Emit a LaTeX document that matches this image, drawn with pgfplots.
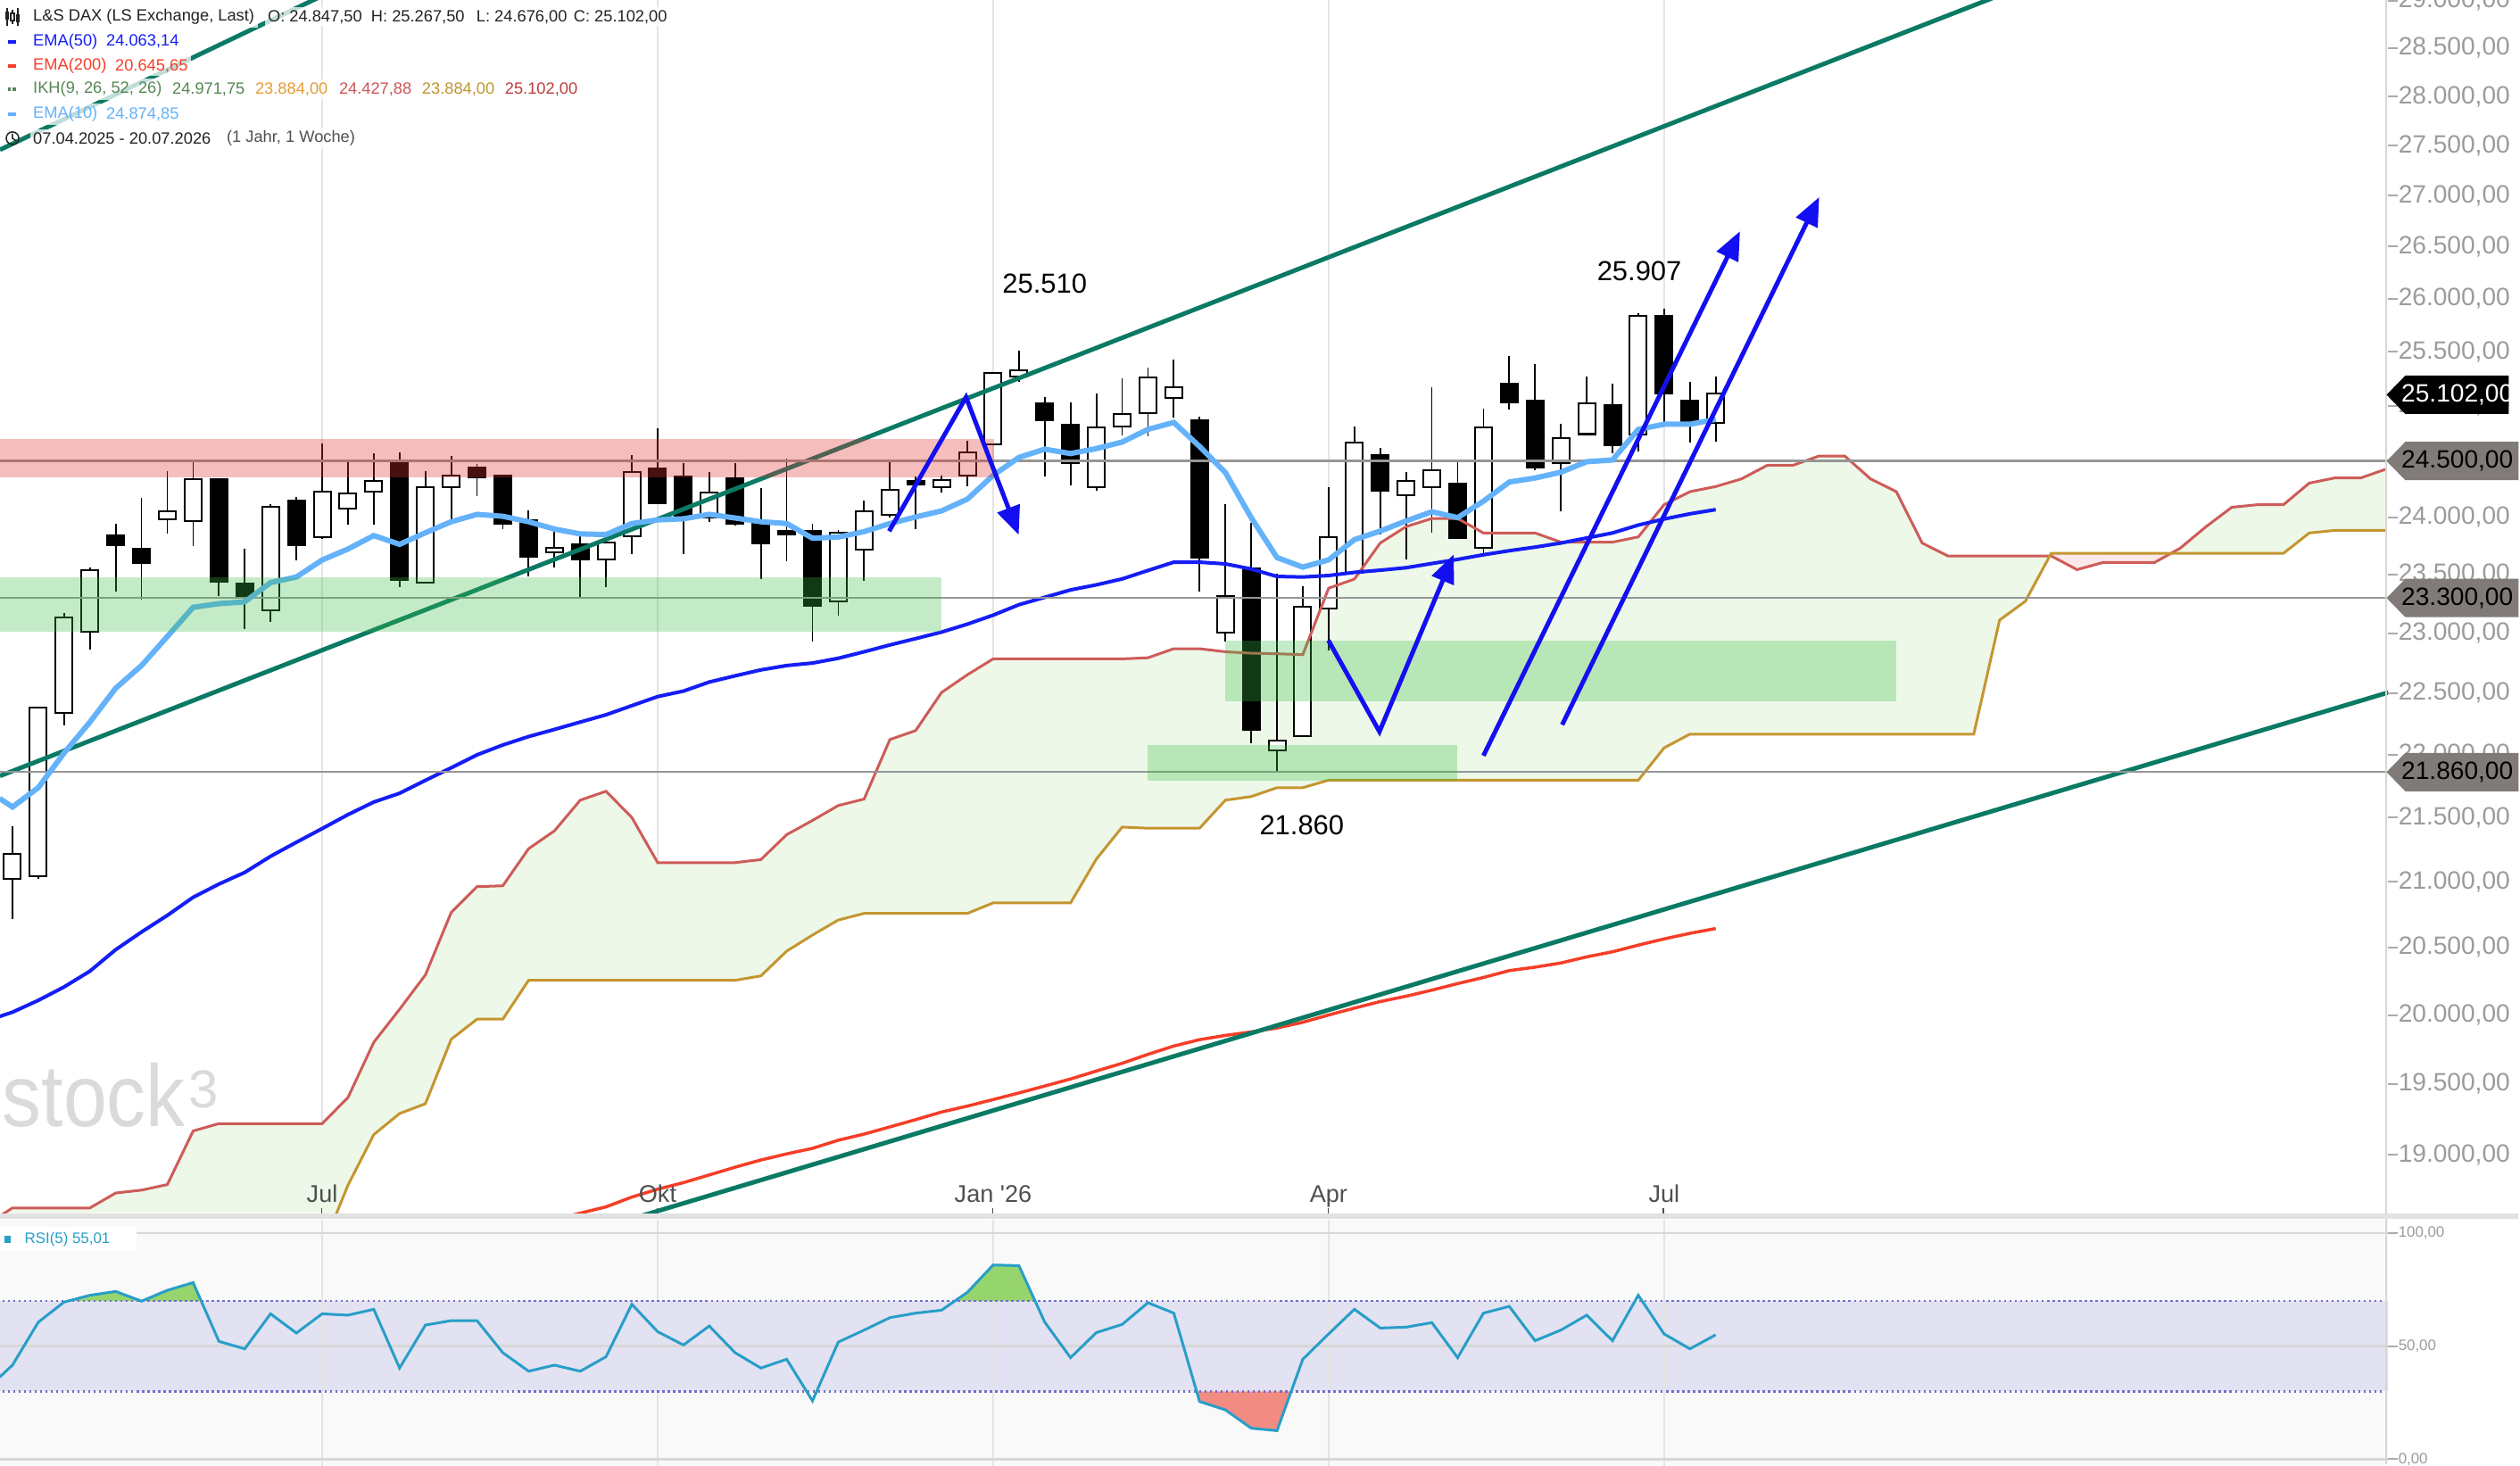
\documentclass[border=0pt]{standalone}
\usepackage{fontspec}
\setmainfont{Liberation Sans}
\usepackage{pgfplots}
\usepackage{pgfplotstable}
\pgfplotsset{compat=1.18}
\usetikzlibrary{arrows.meta}

\definecolor{cloudgreen}{RGB}{237,248,232}
\definecolor{cloudred}{RGB}{252,232,232}
\definecolor{spanA}{RGB}{205,92,88}
\definecolor{spanB}{RGB}{196,150,48}
\definecolor{ematen}{RGB}{100,178,250}
\definecolor{emafifty}{RGB}{20,30,245}
\definecolor{ematwo}{RGB}{245,62,40}
\definecolor{trend}{RGB}{10,122,100}
\definecolor{arrowblue}{RGB}{20,15,240}
\definecolor{hgray}{RGB}{150,150,150}
\definecolor{gridgray}{RGB}{228,228,228}
\definecolor{ticklbl}{RGB}{155,155,155}
\definecolor{tickgray}{RGB}{170,170,170}
\definecolor{rsiline}{RGB}{40,158,200}
\definecolor{rsiband}{RGB}{200,200,235}
\definecolor{rsidot}{RGB}{110,110,205}
\definecolor{rsibg}{RGB}{249,249,249}
\definecolor{obgreen}{RGB}{150,212,110}
\definecolor{ossalmon}{RGB}{242,140,130}
\definecolor{taggray}{RGB}{128,123,120}
\definecolor{zonered}{RGB}{228,50,50}
\definecolor{zonegreen}{RGB}{60,190,70}
\definecolor{ikhgreen}{RGB}{85,135,85}
\definecolor{ikhorange}{RGB}{230,155,50}
\definecolor{ikhred}{RGB}{205,85,85}
\definecolor{ikhgold}{RGB}{190,150,50}
\definecolor{ikhdark}{RGB}{190,60,60}
\definecolor{txtdark}{RGB}{35,35,35}
\definecolor{monthgray}{RGB}{80,80,80}
\definecolor{wm}{RGB}{218,218,218}
\definecolor{sepgray}{RGB}{226,226,226}
\definecolor{bordergray}{RGB}{215,215,215}

% weekly candles, up (close > open)
\pgfplotstableread{
i O H L C
0 21028 21433 20711 21205
1 21050 22380 21020 22374
2 22344 23174 22240 23126
3 23019 23563 22866 23529
6 23988 24411 23853 24046
7 23975 24492 23746 24327
10 23204 24113 23095 24084
12 23832 24656 23812 24216
13 24081 24503 23933 24200
14 24233 24565 23933 24311
16 23437 24411 23430 24255
17 24272 24548 23975 24362
21 23698 23886 23563 23721
23 23642 23777 23390 23768
24 23841 24552 23680 24395
27 24007 24401 23959 24207
32 23281 23889 23148 23857
33 23721 24145 23444 24046
34 24030 24492 23998 24233
36 24275 24371 24216 24323
37 24375 24683 24269 24565
38 24656 25300 24645 25289
39 25275 25510 25215 25316
42 24272 25110 24230 24790
43 24817 25253 24731 24912
44 24942 25350 24718 25248
45 25078 25422 24893 25159
47 23010 24113 22932 23305
49 22038 23504 21860 22105
50 22159 23399 22141 23216
51 23216 24264 22852 23818
52 23521 24809 23510 24653
54 24204 24398 23629 24310
55 24275 25168 23867 24407
57 23737 24974 23657 24791
60 24486 24835 24053 24694
61 24749 25268 24740 25011
63 24746 25862 24582 25831
66 24847.5 25267.5 24676 25102
}\upc

% weekly candles, down (close < open)
\pgfplotstableread{
i O H L C
4 23832 23944 23353 23762
5 23715 24167 23288 23604
8 24327 24335 23313 23447
9 23413 23727 23034 23313
11 24139 24177 23626 23762
15 24489 24574 23390 23460
18 24434 24470 24184 24362
19 24362 24379 23895 23950
20 23966 24062 23485 23657
22 23753 23832 23307 23642
25 24421 24795 24120 24132
26 24353 24476 23680 24007
28 24340 24476 23927 23950
29 23944 24259 23460 23774
30 23870 24519 23617 23857
31 23870 23944 22927 23241
35 24310 24357 23896 24299
40 25010 25083 24362 24871
41 24820 25029 24283 24484
46 24857 24898 23356 23656
48 23543 23948 22094 22207
53 24546 24614 23849 24242
56 24287 24502 23815 23823
58 25198 25462 24965 25034
59 25041 25382 24419 24448
62 24995 25198 24567 24651
64 25831 25907 24846 25120
65 25041 25223 24660 24860
}\dnc

% Ichimoku cloud: Senkou A and Senkou B
\pgfplotstableread{
i A B
-0.5 18580 18000
0 18636 18000
1 18636 18000
2 18636 18000
3 18636 18000
4 18738 18000
5 18758 18000
6 18797 18000
7 19169 18000
8 19221 18000
9 19221 18000
10 19221 18000
11 19221 18000
12 19221 18360
13 19407 18793
14 19802 19143
15 20040 19292
16 20294 19361
17 20764 19824
18 20961 19971
19 20968 19971
20 21255 20254
21 21394 20254
22 21636 20254
23 21707 20254
24 21499 20254
25 21147 20254
26 21147 20254
27 21147 20254
28 21147 20254
29 21170 20287
30 21364 20472
31 21476 20593
32 21594 20707
33 21645 20757
34 22122 20757
35 22195 20757
36 22506 20757
37 22653 20757
38 22785 20837
39 22785 20837
40 22785 20837
41 22785 20837
42 22785 21174
43 22785 21424
44 22795 21415
45 22870 21415
46 22870 21415
47 22845 21636
48 22832 21665
49 22828 21735
50 22820 21735
51 23383 21795
52 23462 21795
53 23773 21795
54 23916 21795
55 23988 21795
56 23988 21795
57 23861 21795
58 23861 21795
59 23861 21795
60 23781 21795
61 23781 21795
62 23781 21795
63 23826 21795
64 24109 22054
65 24224 22166
66 24270 22166
67 24338 22166
68 24460 22166
69 24460 22166
70 24543 22166
71 24543 22166
72 24338 22166
73 24224 22166
74 23773 22166
75 23661 22166
76 23661 22166
77 23661 23111
78 23661 23272
79 23661 23684
80 23542 23684
81 23604 23684
82 23604 23684
83 23604 23684
84 23728 23684
85 23916 23684
86 24087 23684
87 24109 23684
88 24109 23684
89 24301 23861
90 24347 23884
91 24347 23884
92 24428 23884
}\ikh

% EMA10, EMA50, RSI(5)
\pgfplotstableread{
i E10 E50 R
-0.5 21650 19990 36.3
0 21582 20019 41.6
1 21736 20106 60.6
2 22013 20205 69.5
3 22264 20322 72.5
4 22542 20483 74.2
5 22730 20616 69.9
6 22973 20742 74.7
7 23220 20880 78.1
8 23251 20981 52.1
9 23266 21071 48.8
10 23431 21195 64.3
11 23479 21305 55.8
12 23626 21412 64.3
13 23721 21522 63.7
14 23838 21621 66.3
15 23762 21690 40.3
16 23863 21794 59.3
17 23959 21895 61.3
18 24024 21998 61.3
19 24007 22078 47.1
20 23959 22146 38.9
21 23895 22204 41.6
22 23853 22264 38.9
23 23847 22323 45.3
24 23944 22398 68.5
25 23975 22473 56.4
26 23985 22518 50.5
27 24024 22593 58.9
28 23992 22644 47.1
29 23959 22694 40.3
30 23944 22730 44.2
31 23815 22751 25.8
32 23825 22790 51.8
33 23873 22845 57.1
34 23944 22902 62.6
35 24001 22955 64.6
36 24054 23010 65.9
37 24158 23077 73.8
38 24370 23153 85.9
39 24530 23242 85.6
40 24605 23305 60.6
41 24565 23368 44.9
42 24610 23412 56.0
43 24669 23463 59.6
44 24784 23535 69.2
45 24847 23607 64.6
46 24629 23607 25.5
47 24395 23592 21.8
48 23995 23548 13.7
49 23647 23484 12.6
50 23564 23479 44.2
51 23627 23492 55.4
52 23803 23519 66.3
53 23878 23537 58.0
54 23966 23559 58.4
55 24047 23595 60.4
56 23995 23631 44.9
57 24140 23671 64.6
58 24310 23706 67.6
59 24346 23737 52.4
60 24398 23773 57.1
61 24492 23817 63.7
62 24507 23861 52.4
63 24784 23930 72.5
64 24830 23983 55.4
65 24830 24029 48.8
66 24875 24066 55.0
}\ind

% EMA200
\pgfplotstableread{
i E
20 18510
21 18555
22 18599
23 18644
24 18711
25 18762
26 18809
27 18861
28 18917
29 18964
30 19009
31 19047
32 19103
33 19145
34 19197
35 19249
36 19302
37 19344
38 19390
39 19438
40 19487
41 19538
42 19592
43 19650
44 19715
45 19775
46 19820
47 19852
48 19878
49 19905
50 19950
51 20000
52 20049
53 20097
54 20136
55 20181
56 20230
57 20275
58 20326
59 20352
60 20383
61 20429
62 20467
63 20517
64 20564
65 20606
66 20642
}\emaz

\tikzset{
  legbox/.style={anchor=west, fill=white, fill opacity=0.75, text opacity=1, inner sep=1pt, font=\fontsize{5.2}{6}\selectfont},
  arr/.style={arrowblue, line width=0.05cm, -{Triangle[length=0.32cm,width=0.26cm]}},
  mlab/.style={anchor=base, inner sep=0pt, text=monthgray, font=\fontsize{7.7}{8}\selectfont, yshift=0.12cm},
}
\newcommand\pricetag[5]{%
  \fill[#2] (2676,#1) -- (2697,#1-21.5) -- (#4,#1-21.5) -- (#4,#1+21.5) -- (2697,#1+21.5) -- cycle;
  \node[anchor=west, inner sep=0pt, text=#3, font=\fontsize{8}{9}\selectfont] at (2692,#1) {#5};}

\begin{document}
\begin{tikzpicture}
\fill[white] (0,0) rectangle (28.24cm,16.42cm);

% ================= MAIN PRICE PANEL =================
\begin{axis}[
  at={(0cm,2.82cm)}, anchor=south west,
  width=26.76cm, height=13.6cm, scale only axis,
  xmin=-0.484, xmax=92.05,
  ymode=log, ymin=18599, ymax=29010, log origin y=infty,
  axis line style={draw=none},
  xtick=\empty, yminorticks=false,
  ytick={19000,19500,20000,20500,21000,21500,22000,22500,23000,23500,24000,24500,25000,25500,26000,26500,27000,27500,28000,28500,29000},
  yticklabels={{19.000,00},{19.500,00},{20.000,00},{20.500,00},{21.000,00},{21.500,00},{22.000,00},{22.500,00},{23.000,00},{23.500,00},{24.000,00},{24.500,00},{25.000,00},{25.500,00},{26.000,00},{26.500,00},{27.000,00},{27.500,00},{28.000,00},{28.500,00},{29.000,00}},
  ytick pos=right, tick align=outside, major tick length=0.11cm,
  ytick style={draw=tickgray, line width=0.02cm},
  yticklabel style={font=\fontsize{8}{9}\selectfont, text=ticklbl, anchor=west, inner sep=0pt},
  clip=true,
]
\pgfplotsinvokeforeach{12,25,38,51,64}{
  \addplot[gridgray, line width=0.02cm, forget plot] coordinates {(#1,18599) (#1,29010)};}

% Ichimoku cloud: fill under Senkou A, then blank under Senkou B
\addplot[fill=cloudgreen, draw=none, forget plot] table[x=i,y=A]{\ikh} \closedcycle;
\addplot[fill=white, draw=none, forget plot] table[x=i,y=B]{\ikh} \closedcycle;
\addplot[fill=cloudred, draw=none, forget plot] coordinates {(78.94,23661) (79,23661) (80,23542) (81,23604) (82,23604) (83,23604) (83.65,23684) (83,23684) (82,23684) (81,23684) (80,23684) (79,23684)};

% candle wicks
\addplot[draw=none, mark=none, forget plot, error bars/.cd, y dir=minus, y explicit, error mark=none,
  error bar style={draw=black, line width=0.018cm}]
  table[x=i, y=H, y error minus expr=\thisrow{H}-\thisrow{L}] {\upc};
\addplot[draw=none, mark=none, forget plot, error bars/.cd, y dir=minus, y explicit, error mark=none,
  error bar style={draw=black, line width=0.018cm}]
  table[x=i, y=H, y error minus expr=\thisrow{H}-\thisrow{L}] {\dnc};
% candle bodies
\addplot[draw=none, mark=none, forget plot, error bars/.cd, y dir=minus, y explicit, error mark=none,
  error bar style={draw=black, line width=0.21cm}]
  table[x=i, y expr=\thisrow{C}*1.00065, y error minus expr=\thisrow{C}*1.00065-\thisrow{O}*0.99935] {\upc};
\addplot[draw=none, mark=none, forget plot, error bars/.cd, y dir=minus, y explicit, error mark=none,
  error bar style={draw=white, line width=0.17cm}]
  table[x=i, y=C, y error minus expr=\thisrow{C}-\thisrow{O}] {\upc};
\addplot[draw=none, mark=none, forget plot, error bars/.cd, y dir=minus, y explicit, error mark=none,
  error bar style={draw=black, line width=0.21cm}]
  table[x=i, y expr=\thisrow{O}*1.00065, y error minus expr=\thisrow{O}*1.00065-\thisrow{C}*0.99935] {\dnc};

% cloud lines
\addplot[spanA, line width=0.03cm] table[x=i,y=A]{\ikh};
\addplot[spanB, line width=0.03cm] table[x=i,y=B]{\ikh};
% EMAs 200 / 50
\addplot[ematwo, line width=0.035cm] table[x=i,y=E]{\emaz};
\addplot[emafifty, line width=0.04cm] table[x=i,y=E50]{\ind};
% trend lines
\addplot[trend, line width=0.05cm] coordinates {(-0.484,21829) (80,29380)};
\addplot[trend, line width=0.05cm] coordinates {(24,18562) (92.5,22535)};
\addplot[trend, line width=0.05cm] coordinates {(-0.484,27458) (14,29315)};
% horizontal levels
\addplot[hgray, line width=0.025cm] coordinates {(-0.6,24500) (92.1,24500)};
\addplot[hgray, line width=0.025cm] coordinates {(-0.6,23300) (92.1,23300)};
\addplot[hgray, line width=0.025cm] coordinates {(-0.6,21860) (92.1,21860)};
% EMA10
\addplot[ematen, line width=0.06cm] table[x=i,y=E10]{\ind};

% zones
\addplot[fill=zonered, fill opacity=0.32, draw=none] coordinates {(-0.6,24350) (38.02,24350) (38.02,24700) (-0.6,24700)};
\addplot[fill=zonegreen, fill opacity=0.3, draw=none] coordinates {(-0.6,23010) (36.0,23010) (36.0,23480) (-0.6,23480)};
\addplot[fill=zonegreen, fill opacity=0.3, draw=none] coordinates {(47.0,22431) (73.0,22431) (73.0,22940) (47.0,22940)};
\addplot[fill=zonegreen, fill opacity=0.3, draw=none] coordinates {(44.0,21788) (56.0,21788) (56.0,22080) (44.0,22080)};

% blue arrows
\addplot[arr] coordinates {(33.97,23876) (36.95,25077) (38.99,23844)};
\addplot[arr] coordinates {(50.99,22940) (52.97,22186) (55.85,23675)};
\addplot[arr] coordinates {(57.0,21992) (66.94,26650)};
\addplot[arr] coordinates {(60.05,22242) (70.01,26985)};

% annotations
\node[font=\fontsize{8.8}{10}\selectfont, inner sep=0pt] at (axis cs:40.0,26141) {25.510};
\node[font=\fontsize{8.8}{10}\selectfont, inner sep=0pt] at (axis cs:63.04,26264) {25.907};
\node[font=\fontsize{8.8}{10}\selectfont, inner sep=0pt] at (axis cs:49.96,21438) {21.860};

% month labels
\node[mlab] at (axis cs:12,18599) {Jul};
\node[mlab] at (axis cs:25,18599) {Okt};
\node[mlab] at (axis cs:38,18599) {Jan \textquotesingle26};
\node[mlab] at (axis cs:51,18599) {Apr};
\node[mlab] at (axis cs:64,18599) {Jul};
\end{axis}

% ================= RSI PANEL =================
\begin{axis}[
  at={(0cm,0cm)}, anchor=south west,
  width=26.76cm, height=2.75cm, scale only axis,
  xmin=-0.484, xmax=92.05, ymin=-2.64, ymax=105.92,
  axis line style={draw=none},
  axis background/.style={fill=rsibg},
  xtick=\empty,
  ytick={0,50,100}, yticklabels={{0,00},{50,00},{100,00}},
  ytick pos=right, tick align=outside, major tick length=0.11cm,
  ytick style={draw=tickgray, line width=0.02cm},
  yticklabel style={font=\fontsize{4.8}{5.5}\selectfont, text=ticklbl, anchor=west, inner sep=0pt},
  clip=true,
]
\addplot[fill=rsiband, fill opacity=0.45, draw=none, forget plot] coordinates {(-0.6,30) (92.1,30) (92.1,70) (-0.6,70)};
\pgfplotsinvokeforeach{12,25,38,51,64}{
  \addplot[gridgray, line width=0.02cm, forget plot] coordinates {(#1,-5) (#1,110)};}
\addplot[bordergray, line width=0.025cm] coordinates {(-0.6,100) (92.1,100)};
\addplot[bordergray, line width=0.025cm] coordinates {(-0.6,50) (92.1,50)};
\addplot[bordergray, line width=0.025cm] coordinates {(-0.6,0) (92.1,0)};
% overbought / oversold areas
\addplot[fill=obgreen, draw=none] coordinates {(2.167,70) (3,72.5) (4,74.2) (4.977,70)};
\addplot[fill=obgreen, draw=none] coordinates {(5.021,70) (6,74.7) (7,78.1) (7.312,70)};
\addplot[fill=obgreen, draw=none] coordinates {(36.519,70) (37,73.8) (38,85.9) (39,85.6) (39.624,70)};
\addplot[fill=ossalmon, draw=none] coordinates {(45.885,30) (46,25.5) (47,21.8) (48,13.7) (49,12.6) (49.551,30)};
\addplot[rsidot, densely dotted, line width=0.025cm] coordinates {(-0.6,70) (92.1,70)};
\addplot[rsidot, densely dotted, line width=0.025cm] coordinates {(-0.6,30) (92.1,30)};
\addplot[rsiline, line width=0.03cm] table[x=i,y=R]{\ind};
\end{axis}

% ================= DECORATION (pixel frame, origin top-left) =================
\begin{scope}[x=0.01cm, y=-0.01cm, shift={(0cm,16.42cm)}]
  \fill[sepgray] (0,1361) rectangle (2824,1367);
  \draw[bordergray, line width=0.02cm] (2676,0) -- (2676,1361);
  \draw[bordergray, line width=0.02cm] (2676,1367) -- (2676,1642);
  % small month tick marks
  \foreach \tx in {361,737,1113,1489,1865} {\draw[monthgray, line width=0.012cm] (\tx,1355) -- (\tx,1361);}
  % price tags
  \pricetag{442.7}{black}{white}{2813}{25.102,00}
  \pricetag{517}{taggray}{black}{2824}{24.500,00}
  \pricetag{670.6}{taggray}{black}{2824}{23.300,00}
  \pricetag{865.8}{taggray}{black}{2824}{21.860,00}
  % watermark
  \node[anchor=base west, inner sep=0pt, text=wm, font=\fontsize{25}{25}\selectfont] at (2,1263) {\scalebox{1}[1.12]{stock}};
  \node[anchor=base west, inner sep=0pt, text=wm, font=\fontsize{17}{17}\selectfont] at (211,1242) {3};
  % legend
  \draw[txtdark, line width=0.012cm] (8,9) -- (8,29) (14,11) -- (14,27) (20,9) -- (20,29);
  \fill[txtdark] (6,13) rectangle (10,22);
  \draw[txtdark, line width=0.012cm, fill=white] (12,15) rectangle (16,23);
  \fill[txtdark] (18,16) rectangle (22,25);
  \node[legbox, text=txtdark] at (33,19) {L\&S DAX (LS Exchange, Last)};
  \node[legbox, text=txtdark] at (296,19) {O: 24.847,50};
  \node[legbox, text=txtdark] at (412,19) {H: 25.267,50};
  \node[legbox, text=txtdark] at (530,19) {L: 24.676,00};
  \node[legbox, text=txtdark] at (639,19) {C: 25.102,00};
  \fill[emafifty] (9,44.7) rectangle (18,48.7);
  \node[legbox, text=emafifty] at (33,46.7) {EMA(50)};
  \node[legbox, text=emafifty] at (115,46.7) {24.063,14};
  \fill[ematwo] (9,72) rectangle (18,76);
  \node[legbox, text=ematwo] at (33,74) {EMA(200)};
  \node[legbox, text=ematwo] at (125,74) {20.645,65};
  \fill[ikhgreen] (9,98) rectangle (12,102);
  \fill[ikhgreen] (14,98) rectangle (18,102);
  \node[legbox, text=ikhgreen] at (33,100) {IKH(9, 26, 52, 26)};
  \node[legbox, text=ikhgreen] at (189,100) {24.971,75};
  \node[legbox, text=ikhorange] at (282,100) {23.884,00};
  \node[legbox, text=ikhred] at (376,100) {24.427,88};
  \node[legbox, text=ikhgold] at (469,100) {23.884,00};
  \node[legbox, text=ikhdark] at (562,100) {25.102,00};
  \fill[ematen] (9,126.3) rectangle (18,130.3);
  \node[legbox, text=ematen] at (33,128.3) {EMA(10)};
  \node[legbox, text=ematen] at (115,128.3) {24.874,85};
  \draw[txtdark, line width=0.015cm] (14,155) circle[radius=0.07cm];
  \draw[txtdark, line width=0.015cm] (14,150) -- (14,155) -- (18,158);
  \node[legbox, text=txtdark] at (33,155) {07.04.2025 - 20.07.2026};
  \node[legbox, text=monthgray] at (250,155) {(1 Jahr, 1 Woche)};
  % RSI legend
  \fill[white] (0,1376) rectangle (153,1403);
  \fill[rsiline] (5,1386) rectangle (12,1394);
  \node[anchor=west, inner sep=0pt, text=rsiline, font=\fontsize{4.8}{5.5}\selectfont] at (27,1390) {RSI(5) 55,01};
\end{scope}
\pgfresetboundingbox
\useasboundingbox (0,0) rectangle (28.24cm,16.42cm);
\end{tikzpicture}
\end{document}
